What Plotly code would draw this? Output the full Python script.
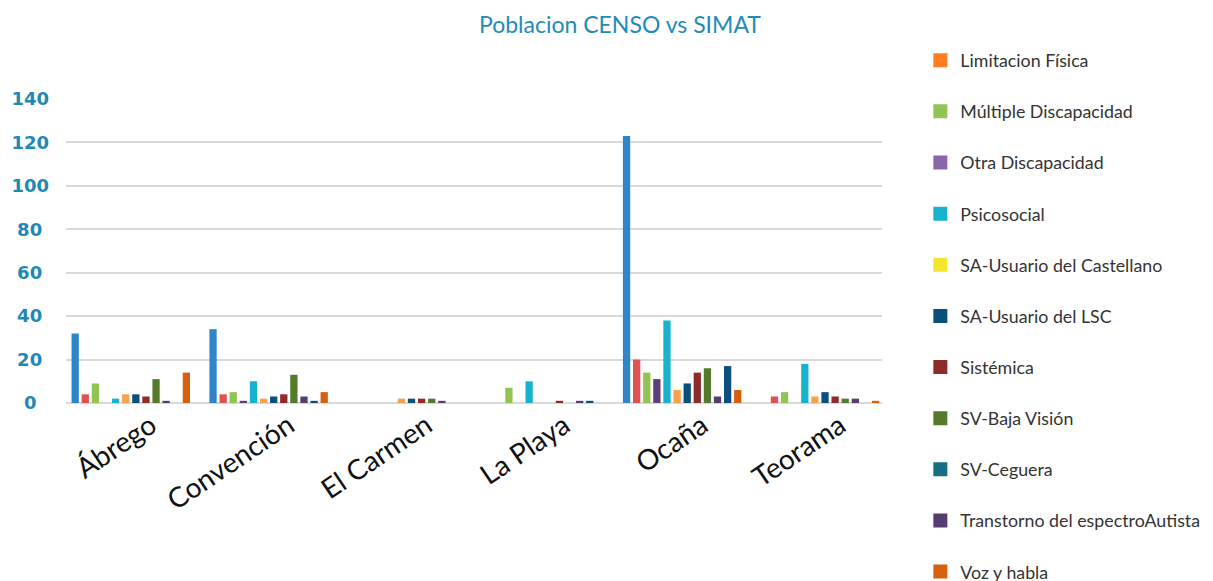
import plotly.graph_objects as go

municipios = ["Ábrego", "Convención", "El Carmen", "La Playa", "Ocaña", "Teorama"]

series_names = [
    "DI-Cognitivo",
    "Limitacion Física",
    "Múltiple Discapacidad",
    "Otra Discapacidad",
    "Psicosocial",
    "SA-Usuario del Castellano",
    "SA-Usuario del LSC",
    "Sistémica",
    "SV-Baja Visión",
    "SV-Ceguera",
    "Transtorno del espectroAutista",
    "Voz y habla",
]

# values per series, in municipio order
di_cognitivo      = [32, 34, 0, 0, 123, 0]
limitacion_fisica = [4, 4, 0, 0, 20, 3]
multiple          = [9, 5, 0, 7, 14, 5]
otra              = [0, 1, 0, 0, 11, 0]
psicosocial       = [2, 10, 0, 10, 38, 18]
sa_castellano     = [4, 2, 2, 0, 6, 3]
sa_lsc            = [4, 3, 2, 0, 9, 5]
sistemica         = [3, 4, 2, 1, 14, 3]
sv_baja_vision    = [11, 13, 2, 0, 16, 2]
sv_ceguera        = [1, 3, 1, 1, 3, 2]
tea               = [0, 1, 0, 1, 17, 0]
voz_habla         = [14, 5, 0, 0, 6, 1]

series_values = [di_cognitivo, limitacion_fisica, multiple, otra, psicosocial,
                 sa_castellano, sa_lsc, sistemica, sv_baja_vision, sv_ceguera,
                 tea, voz_habla]

bar_colors = ["#2E86C8", "#E05252", "#92C353", "#5B3F78", "#17B2CC", "#F9A04D",
              "#0B4F7B", "#8E2B2B", "#557A2B", "#553D70", "#0D4F7C", "#D7600F"]
legend_colors = ["#2E86C8", "#FF7F1F", "#92C353", "#8A66AA", "#17B2CC", "#F4E52E",
                 "#0B4F7B", "#8E2B2B", "#557A2B", "#146F7F", "#553D70", "#D7600F"]

y_tick_vals = [0, 20, 40, 60, 80, 100, 120, 140]
y_tick_text = ["0\u2007", "20\u2008", "40\u2008", "60\u2008", "80\u2008",
               "100", "120", "140"]

title_text = "Poblacion CENSO vs SIMAT"

fig = go.Figure()

for name, vals, col in zip(series_names, series_values, bar_colors):
    fig.add_trace(go.Bar(
        x=municipios, y=vals, name=name,
        marker=dict(color=col, line=dict(width=0)),
        showlegend=False,
    ))

# legend entries (first entry is scrolled out of view in the reference)
for i, (name, col) in enumerate(zip(series_names, legend_colors)):
    fig.add_trace(go.Scatter(
        x=[None], y=[None], name=name, mode="markers",
        marker=dict(symbol="square", size=14, color=col),
        legendgroup=f"g{i}", showlegend=(i > 0),
    ))

fig.update_layout(
    width=1213, height=581,
    paper_bgcolor="white", plot_bgcolor="white",
    margin=dict(l=58, r=339, t=91, b=186, autoexpand=False),
    barmode="group", bargap=0.12, bargroupgap=0.28,
    font=dict(family="Lato, sans-serif", color="#333333"),
    title=dict(text=title_text, x=0.5045, xanchor="center", y=0.9707, yanchor="middle",
               font=dict(family="Lato, sans-serif", size=23, color="#1F8CB6")),
    legend=dict(x=1.047, xanchor="left", y=1.187, yanchor="top",
                font=dict(family="Lato, sans-serif", size=17.8, color="#333333"),
                tracegroupgap=25, maxheight=1000, bgcolor="rgba(0,0,0,0)"),
    xaxis=dict(type="category", range=[-0.47, 5.45], tickangle=-34, showgrid=False,
               showline=False, ticks="", ticklabelshift=20,
               tickfont=dict(family="Lato, sans-serif", size=28, color="#111111")),
    yaxis=dict(range=[0, 140], tickvals=y_tick_vals, ticktext=y_tick_text,
               showgrid=True, gridcolor="#D9D9D9", gridwidth=1.5,
               zeroline=True, zerolinecolor="#D9D9D9", zerolinewidth=1.5,
               showline=False, ticks="", ticklabelstandoff=16,
               tickfont=dict(family="DejaVu Sans, sans-serif", size=18, color="#1F88B4",
                             weight="bold")),
)

fig.write_html("out.html")
